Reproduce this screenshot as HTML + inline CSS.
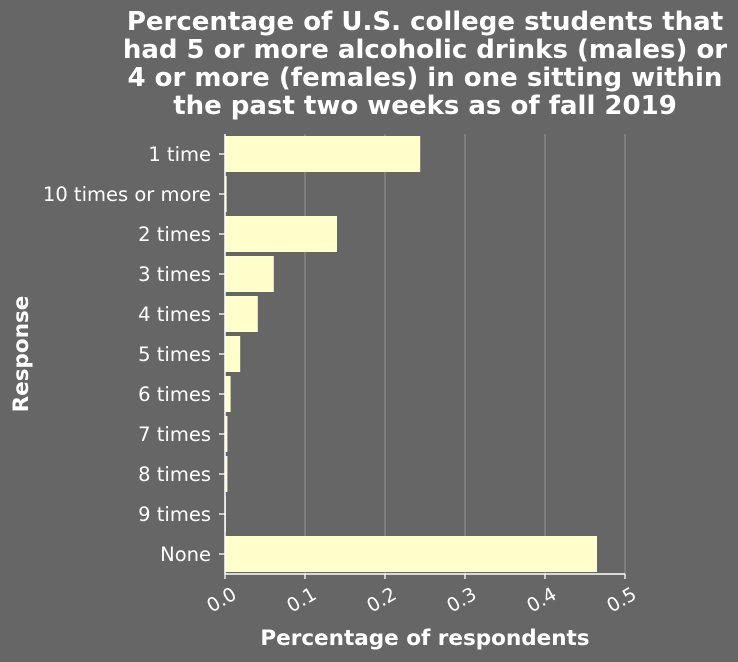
<!DOCTYPE html>
<html><head><meta charset="utf-8"><style>
body{margin:0;background:#666666;}
svg{display:block;font-family:"DejaVu Sans","Liberation Sans",sans-serif;}
</style></head><body>
<svg width="738" height="662">
<rect width="738" height="662" fill="#666666"/>
<g id="title" font-weight="bold" font-size="26" fill="#ffffff" text-anchor="middle">
<text x="425" y="30">Percentage of U.S. college students that</text>
<text x="425" y="58">had 5 or more alcoholic drinks (males) or</text>
<text x="425" y="86">4 or more (females) in one sitting within</text>
<text x="425" y="114">the past two weeks as of fall 2019</text>
</g>
<g id="grid"></g><g id="bars"></g><g id="axes"></g>
<text x="425" y="645" font-weight="bold" font-size="21.5" fill="#fff" text-anchor="middle">Percentage of respondents</text>
<text transform="translate(28,354) rotate(-90)" font-weight="bold" font-size="21.5" fill="#fff" text-anchor="middle">Response</text>
</svg>
<script>
const categories=["1 time","10 times or more","2 times","3 times","4 times","5 times","6 times","7 times","8 times","9 times","None"];
const values=[0.244,0.002,0.14,0.061,0.041,0.019,0.007,0.003,0.003,0.001,0.465];
const xTicks=[0,0.1,0.2,0.3,0.4,0.5];
const xTickLabels=["0.0","0.1","0.2","0.3","0.4","0.5"];
const NS="http://www.w3.org/2000/svg";
const X0=225,X1=625,Y0=134,Y1=574;
const xs=v=>X0+(v/0.5)*(X1-X0);
const band=(Y1-Y0)/categories.length;
const yc=i=>Y0+band*i+band/2;
function mk(t,a,p){const e=document.createElementNS(NS,t);for(const k in a)e.setAttribute(k,a[k]);p.appendChild(e);return e;}
const grid=document.getElementById('grid'),bars=document.getElementById('bars'),axes=document.getElementById('axes');
xTicks.forEach((t,i)=>{
 if(i>0){const g=mk('line',{x1:xs(t),x2:xs(t),y1:Y0,y2:Y1,stroke:'#8a8a8a','stroke-width':1.3},grid);
 
 }
 const tk=mk('line',{x1:xs(t),x2:xs(t),y1:Y1,y2:Y1+5,stroke:'#fff','stroke-width':1.3},axes);
 
 
 const lb=mk('text',{transform:`translate(${xs(t)+6},${Y1+12}) rotate(-30)`,'text-anchor':'end','dominant-baseline':'hanging',fill:'#fff','font-size':19},axes);
 lb.textContent=xTickLabels[i];
 
 
});
categories.forEach((c,i)=>{
 const r=mk('rect',{x:X0,y:Y0+band*i+2,width:Math.max(0,xs(values[i])-X0),height:band-4,fill:'#ffffcc'},bars);
 
 
 const tk=mk('line',{x1:X0-6,x2:X0,y1:yc(i),y2:yc(i),stroke:'#fff','stroke-width':1.3},axes);
 
 
 const lb=mk('text',{x:X0-14,y:yc(i)+7,'text-anchor':'end',fill:'#fff','font-size':19.5},axes);
 lb.textContent=c;
 
 
});
const ax=mk('line',{x1:X0,x2:X1,y1:Y1,y2:Y1,stroke:'#fff','stroke-width':1.5},axes);


const ay=mk('line',{x1:X0,x2:X0,y1:Y0,y2:Y1,stroke:'#fff','stroke-width':1.5},axes);


</script>
</body></html>
